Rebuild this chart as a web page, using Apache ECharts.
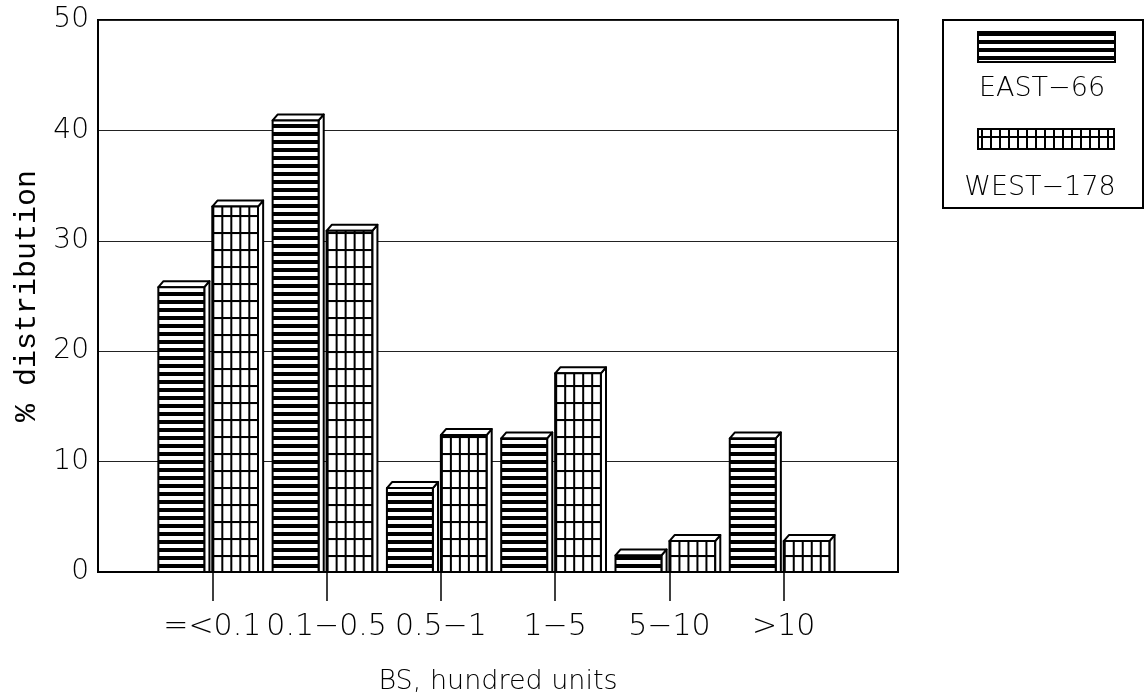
<!DOCTYPE html>
<html>
<head>
<meta charset="utf-8">
<script src="https://cdn.jsdelivr.net/npm/echarts@6/dist/echarts.min.js"></script>
<style>
  html, body { margin: 0; padding: 0; background: #fff; }
  #chart { width: 1148px; height: 700px; }
</style>
</head>
<body>
<div id="chart"></div>
<script>
// Size classes of BS and the share of each region's sample in them (%)
const categories = ['=<0.1', '0.1−0.5', '0.5−1', '1−5', '5−10', '>10'];
const eastValues = [25.8, 40.9, 7.6, 12.1, 1.5, 12.1];
const westValues = [33.1, 30.9, 12.4, 18.0, 2.8, 2.8];
const seriesNames = ['EAST−66', 'WEST−178'];
const yTicks = [0, 10, 20, 30, 40, 50];

const FONT = '"DejaVu Sans", "Noto Sans", sans-serif';
const W = 200; // light weight for the label text

// Hatch fills: horizontal stripes and a square-ish grid
function stripeCanvas() {
  const c = document.createElement('canvas');
  c.width = 8; c.height = 8;
  const ctx = c.getContext('2d');
  ctx.fillStyle = '#fff'; ctx.fillRect(0, 0, 8, 8);
  ctx.fillStyle = '#000'; ctx.fillRect(0, 0, 8, 4);
  return c;
}
function gridCanvas() {
  const c = document.createElement('canvas');
  c.width = 9; c.height = 17;
  const ctx = c.getContext('2d');
  ctx.fillStyle = '#fff'; ctx.fillRect(0, 0, 9, 17);
  ctx.fillStyle = '#000';
  ctx.fillRect(0, 0, 2, 17);
  ctx.fillRect(0, 0, 9, 2);
  return c;
}
const stripes = stripeCanvas();
const grid = gridCanvas();

// Box-shaped bar: hatched front face, plain top and right side faces
function boxRenderer(offL, offR, tile) {
  return function (params, api) {
    const c = api.value(0), v = api.value(1);
    const base = api.coord([c, 0]);
    const top = api.coord([c, v]);
    const band = api.size([1, 0])[0];
    const L = base[0] + offL * band;
    const R = base[0] + offR * band;
    const T = top[1], B = base[1];
    const dx = 0.045 * band, dy = 6;
    const line = { stroke: '#000', lineWidth: 2, lineJoin: 'round' };
    return {
      type: 'group',
      children: [
        { type: 'polygon', shape: { points: [[R, B], [R, T], [R + dx, T - dy], [R + dx, B]] },
          style: Object.assign({ fill: '#fff' }, line) },
        { type: 'polygon', shape: { points: [[L, T], [L + dx, T - dy], [R + dx, T - dy], [R, T]] },
          style: Object.assign({ fill: '#fff' }, line) },
        { type: 'rect', shape: { x: L, y: T, width: R - L, height: B - T },
          style: Object.assign({ fill: { image: tile, repeat: 'repeat', x: L, y: B } }, line) }
      ]
    };
  };
}

const axisCats = [''].concat(categories, ['']);

const chart = echarts.init(document.getElementById('chart'), null, { renderer: 'canvas' });
chart.setOption({
  animation: false,
  backgroundColor: '#fff',
  grid: { left: 98, right: 250, top: 20, bottom: 128, show: true, borderColor: '#000', borderWidth: 2 },
  xAxis: {
    type: 'category',
    data: axisCats,
    boundaryGap: false,
    name: 'BS, hundred units',
    nameLocation: 'middle',
    nameGap: 96,
    nameTextStyle: { fontFamily: FONT, fontSize: 27, fontWeight: W, color: '#000' },
    axisLine: { show: true, lineStyle: { color: '#000', width: 2 } },
    axisTick: { show: true, length: 29, interval: (i) => i > 0 && i < axisCats.length - 1,
                lineStyle: { color: '#000', width: 1.5 } },
    axisLabel: { interval: 0, margin: 40, fontFamily: FONT, fontSize: 30, fontWeight: W, color: '#000' },
    splitLine: { show: false }
  },
  yAxis: {
    type: 'value',
    min: yTicks[0],
    max: yTicks[yTicks.length - 1],
    interval: 10,
    name: '% distribution',
    nameLocation: 'middle',
    nameGap: 56,
    nameTextStyle: { fontFamily: '"Liberation Mono", "DejaVu Sans Mono", monospace', fontSize: 30, color: '#000' },
    axisLine: { show: true, lineStyle: { color: '#000', width: 2 } },
    axisTick: { show: false },
    axisLabel: { margin: 9, fontFamily: FONT, fontSize: 28, fontWeight: W, color: '#000' },
    splitLine: { show: true, lineStyle: { color: '#222', width: 1 } }
  },
  series: [
    {
      name: seriesNames[0],
      type: 'custom',
      renderItem: boxRenderer(-0.472, -0.07, stripes),
      data: eastValues.map((v, i) => [i + 1, v]),
      encode: { x: 0, y: 1 }
    },
    {
      name: seriesNames[1],
      type: 'custom',
      renderItem: boxRenderer(0.0, 0.4, grid),
      data: westValues.map((v, i) => [i + 1, v]),
      encode: { x: 0, y: 1 }
    }
  ],
  graphic: [
    { type: 'rect', shape: { x: 943, y: 20, width: 200, height: 188 },
      style: { fill: '#fff', stroke: '#000', lineWidth: 2 } },
    { type: 'rect', shape: { x: 978, y: 32, width: 137, height: 30 },
      style: { fill: { image: stripes, repeat: 'repeat' }, stroke: '#000', lineWidth: 2 } },
    { type: 'text', x: 1042, y: 89,
      style: { text: seriesNames[0], font: W + ' 27px ' + FONT, fill: '#000', textAlign: 'center', textVerticalAlign: 'middle' } },
    { type: 'rect', shape: { x: 978, y: 129, width: 136, height: 20 },
      style: { fill: { image: grid, repeat: 'repeat' }, stroke: '#000', lineWidth: 2 } },
    { type: 'text', x: 1040, y: 188,
      style: { text: seriesNames[1], font: W + ' 27px ' + FONT, fill: '#000', textAlign: 'center', textVerticalAlign: 'middle' } }
  ]
});
</script>
</body>
</html>
